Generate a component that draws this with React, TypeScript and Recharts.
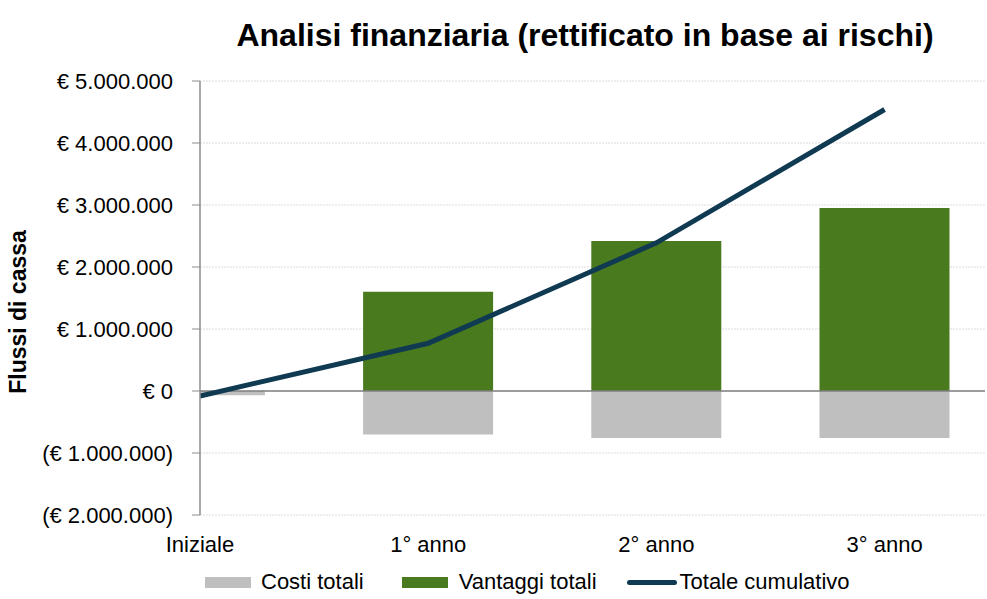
import React from 'react';
import { ComposedChart, Bar, Line, XAxis, YAxis, CartesianGrid, ReferenceLine } from 'recharts';

const categories = ['Iniziale', '1° anno', '2° anno', '3° anno'];
const costiTotali = [-70000, -700000, -760000, -760000];
const vantaggiTotali = [0, 1600000, 2420000, 2950000];
const totaleCumulativo = [-80000, 770000, 2390000, 4540000];
const yTicks = [-2000000, -1000000, 0, 1000000, 2000000, 3000000, 4000000, 5000000];

const data = categories.map((c, i) => ({
  x: i,
  name: c,
  costi: costiTotali[i],
  vantaggi: vantaggiTotali[i],
  cumulativo: totaleCumulativo[i],
}));

const FONT = 'Liberation Sans, Arial, sans-serif';
const GREY = '#bfbfbf';
const GREEN = '#4a7a1e';
const NAVY = '#0f3a52';

const fmtY = (v: number) => {
  const abs = Math.abs(v).toString().replace(/\B(?=(\d{3})+(?!\d))/g, '.');
  if (v < 0) return `(€ ${abs})`;
  return `€ ${abs}`;
};

const LegendBox = () => (
  <div
    style={{
      position: 'absolute',
      top: 569,
      left: 205,
      display: 'flex',
      alignItems: 'center',
      fontFamily: FONT,
      fontSize: 22,
      lineHeight: '26px',
      color: '#000',
      whiteSpace: 'nowrap',
    }}
  >
    <span style={{ display: 'inline-block', width: 46, height: 11, background: GREY, marginRight: 10 }} />
    <span style={{ marginRight: 38 }}>Costi totali</span>
    <span style={{ display: 'inline-block', width: 46, height: 11, background: GREEN, marginRight: 11 }} />
    <span style={{ marginRight: 30 }}>Vantaggi totali</span>
    <span style={{ display: 'inline-block', width: 50, height: 5, background: NAVY, borderRadius: 3, marginRight: 3 }} />
    <span>Totale cumulativo</span>
  </div>
);

export default function App() {
  return (
    <div style={{ position: 'absolute', left: 0, top: 0, width: 987, height: 599, background: '#fff' }}>
      <ComposedChart
        width={987}
        height={599}
        data={data}
        stackOffset="sign"
        margin={{ top: 81, right: 2, bottom: 54, left: 0 }}
      >
        <text x={585} y={46} textAnchor="middle" style={{ fontFamily: FONT, fontSize: 32, fontWeight: 700 }} fill="#000">
          Analisi finanziaria (rettificato in base ai rischi)
        </text>
        <text
          x={26}
          y={312}
          textAnchor="middle"
          transform="rotate(-90 26 312)"
          style={{ fontFamily: FONT, fontSize: 23, fontWeight: 700 }}
          fill="#000"
        >
          Flussi di cassa
        </text>
        <CartesianGrid vertical={false} stroke="#dcdcdc" strokeDasharray="2 1" />
        <XAxis
          dataKey="x"
          type="number"
          domain={[0, 3.44]}
          ticks={[0, 1, 2, 3]}
          allowDataOverflow
          height={30}
          tickFormatter={(v: number) => categories[v] ?? ''}
          axisLine={false}
          tickLine={false}
          tickMargin={15}
          tick={{ fontFamily: FONT, fontSize: 22, fill: '#000' }}
          interval={0}
        />
        <YAxis
          width={200}
          domain={[-2000000, 5000000]}
          ticks={yTicks}
          tickFormatter={fmtY}
          axisLine={{ stroke: '#8c8c8c', strokeWidth: 1.5 }}
          tickLine={{ stroke: '#8c8c8c' }}
          tickSize={8}
          tickMargin={19}
          tick={{ fontFamily: FONT, fontSize: 22, fill: '#000' }}
          interval={0}
        />
        <Bar dataKey="costi" stackId="a" fill={GREY} barSize={130} isAnimationActive={false} name="Costi totali" />
        <Bar dataKey="vantaggi" stackId="a" fill={GREEN} barSize={130} isAnimationActive={false} name="Vantaggi totali" />
        <ReferenceLine y={0} stroke="#7f7f7f" strokeWidth={1.5} />
        <Line
          dataKey="cumulativo"
          type="linear"
          stroke={NAVY}
          strokeWidth={5}
          dot={false}
          isAnimationActive={false}
          name="Totale cumulativo"
        />
      </ComposedChart>
      <LegendBox />
    </div>
  );
}
